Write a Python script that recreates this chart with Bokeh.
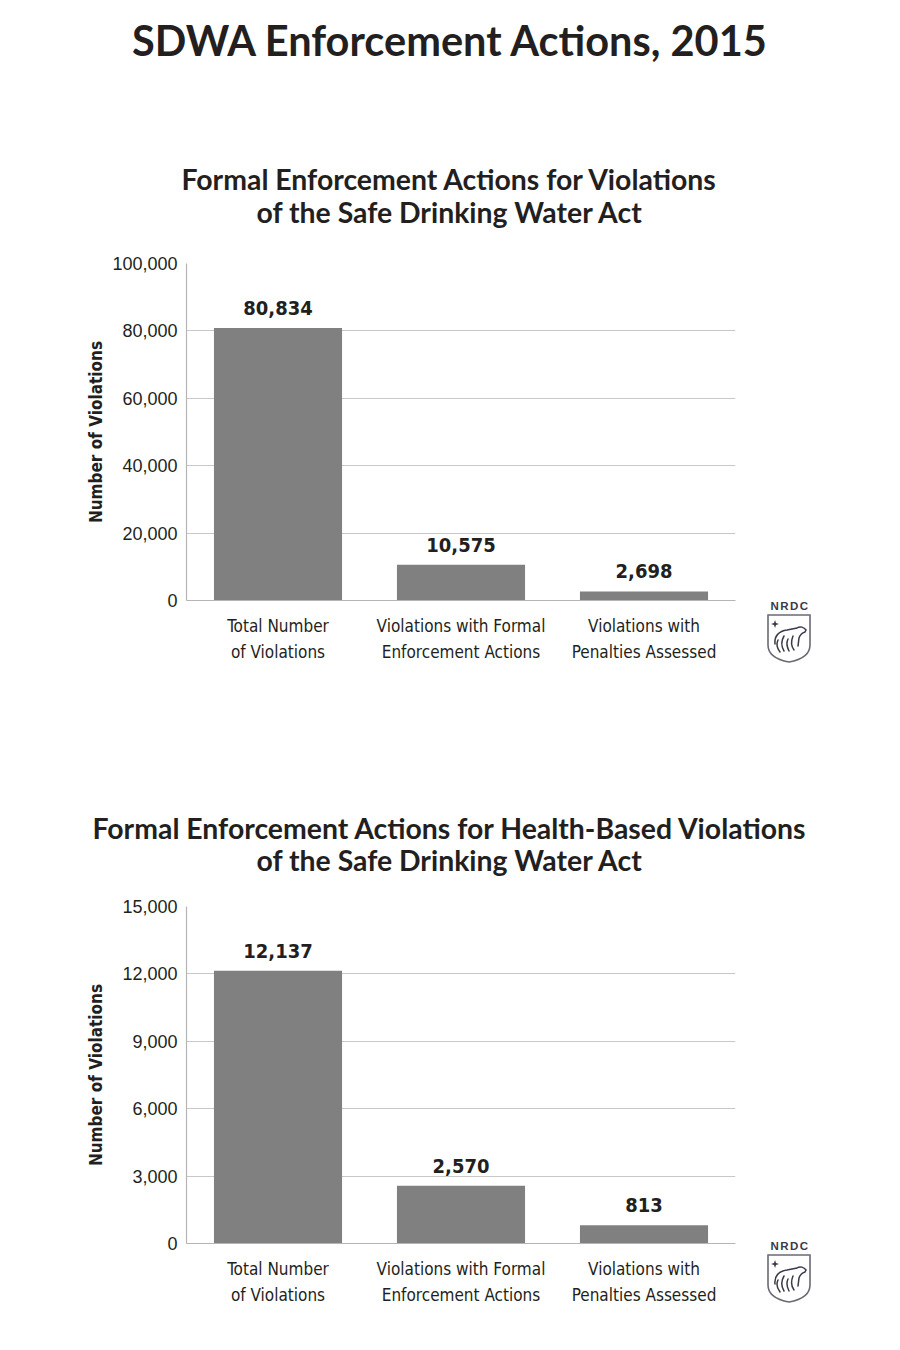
from bokeh.plotting import figure
from bokeh.models import Range1d, FixedTicker, NumeralTickFormatter, ColumnDataSource, Title, Div
from bokeh.layouts import column
from bokeh.embed import file_html
from bokeh.resources import INLINE
from bokeh.core.properties import value

# ---- data ----
categories = ["Total Number\nof Violations",
              "Violations with Formal\nEnforcement Actions",
              "Violations with\nPenalties Assessed"]
all_violations = [80834, 10575, 2698]
health_violations = [12137, 2570, 813]
main_title = "SDWA Enforcement Actions, 2015"
sub1 = ["Formal Enforcement Actions for Violations", "of the Safe Drinking Water Act"]
sub2 = ["Formal Enforcement Actions for Health-Based Violations", "of the Safe Drinking Water Act"]
ticks1 = [0, 20000, 40000, 60000, 80000, 100000]
ticks2 = [0, 3000, 6000, 9000, 12000, 15000]

INK = "#231f20"
BAR = "#808080"
GRID = "#c8c8c8"
COND = "DejaVu Sans Condensed"
SANS = "Liberation Sans"
TITLEF = "Lato"

H1, H2 = 698, 640


def title(text, size, offset, standoff):
    return Title(text=text, align="left", offset=offset, text_font=TITLEF,
                 text_font_style="bold", text_font_size=size, text_color=INK,
                 standoff=standoff)


def spacer(standoff):
    return Title(text=" ", align="left", text_font_size="2px", standoff=standoff)


def make_chart(vals, ticks, ymax, height, top, label_standoff):
    p = figure(x_range=categories, y_range=Range1d(0, ymax), width=892, height=height,
               output_backend="svg", toolbar_location=None,
               min_border_left=186, min_border_right=157, min_border_top=top,
               min_border_bottom=height - top - 337)
    p.outline_line_color = None
    p.background_fill_color = "white"
    p.border_fill_color = "white"
    src = ColumnDataSource(dict(cat=categories, val=vals, lab=[f"{v:,}" for v in vals]))
    p.vbar(x="cat", top="val", width=0.7, source=src, fill_color=BAR, line_color=None)
    p.text(x="cat", y="val", text="lab", source=src, y_offset=-13, text_align="center",
           text_baseline="bottom", text_font=value(COND), text_font_style="bold",
           text_font_size="20px", text_color=INK)

    p.xgrid.grid_line_color = None
    p.ygrid.grid_line_color = GRID
    p.ygrid.grid_line_width = 1.2
    p.yaxis.ticker = FixedTicker(ticks=ticks)
    p.yaxis.formatter = NumeralTickFormatter(format="0,0")
    for ax in (p.xaxis, p.yaxis):
        ax.axis_line_color = "#b5b5b5"
        ax.axis_line_width = 1.2
        ax.major_tick_line_color = None
        ax.minor_tick_line_color = None
        ax.major_tick_out = 0
        ax.major_tick_in = 0
    p.yaxis.major_label_text_font = SANS
    p.yaxis.major_label_text_font_size = "18px"
    p.yaxis.major_label_text_color = INK
    p.yaxis.major_label_standoff = 9
    p.yaxis.axis_label = "Number of Violations"
    p.yaxis.axis_label_text_font = COND
    p.yaxis.axis_label_text_font_style = "bold"
    p.yaxis.axis_label_text_font_size = "17px"
    p.yaxis.axis_label_text_color = INK
    p.yaxis.axis_label_standoff = label_standoff

    p.xaxis.major_label_text_font = COND
    p.xaxis.major_label_text_font_size = "17px"
    p.xaxis.major_label_text_color = INK
    p.xaxis.major_label_standoff = 15
    p.xaxis.major_label_text_line_height = 1.3
    return p


def make_logo():
    html = """
<div style="position:relative;width:132px;height:98px;">
  <div style="position:absolute;left:2px;top:0px;width:56px;text-align:center;line-height:12px;
       font-family:'Liberation Sans';font-weight:bold;font-size:11.5px;color:#3a3a48;
       letter-spacing:1.4px;">NRDC</div>
  <svg style="position:absolute;left:6px;top:13px;" width="48" height="52" viewBox="0 0 48 52">
    <path d="M2,2 L44,2 L44,32 C44,42 34,47 23,49 C12,47 2,42 2,32 Z" fill="none"
          stroke="#6a6a72" stroke-width="1.6"/>
    <path d="M9,7 L10,10 L13,11 L10,12 L9,15 L8,12 L5,11 L8,10 Z" fill="#3a3a48"/>
    <path d="M9,31 C8,23 13,18 21,17 L31,15 C34,13 38,14 40,17 L39,19 C36,20 34,22 33,25
             L32,33 M27,23 C25,28 25,33 28,37 M18,23 C15,28 15,33 18,38 M12,27 C10,31 11,35 14,39
             M22,26 C20,30 21,34 23,38" fill="none" stroke="#3a3a48" stroke-width="1.5"
             stroke-linecap="round"/>
  </svg>
</div>"""
    return Div(text=html, width=132, height=98, margin=(-98, 0, 0, 760))


# chart 1: titles stacked outward from the frame
p1 = make_chart(all_violations, ticks1, 100000, H1, 263, 3)
p1.title = title(main_title, "41.5px", -54.5, 0)
p1.add_layout(spacer(30.4), "above")
p1.add_layout(title(sub1[1], "28.4px", 70, 0), "above")
p1.add_layout(title(sub1[0], "28.4px", -5, -6.2), "above")
p1.add_layout(spacer(94.1), "above")

# chart 2
p2 = make_chart(health_violations, ticks2, 15000, H2, 208, 13)
p2.title = title(sub2[0], "28.4px", -94, -8.2)
p2.add_layout(spacer(25.4), "above")
p2.add_layout(title(sub2[1], "28.4px", 70, 0), "above")

layout = column(p1, make_logo(), p2, make_logo(), spacing=0)
open("out.html", "w").write(file_html(layout, INLINE))
